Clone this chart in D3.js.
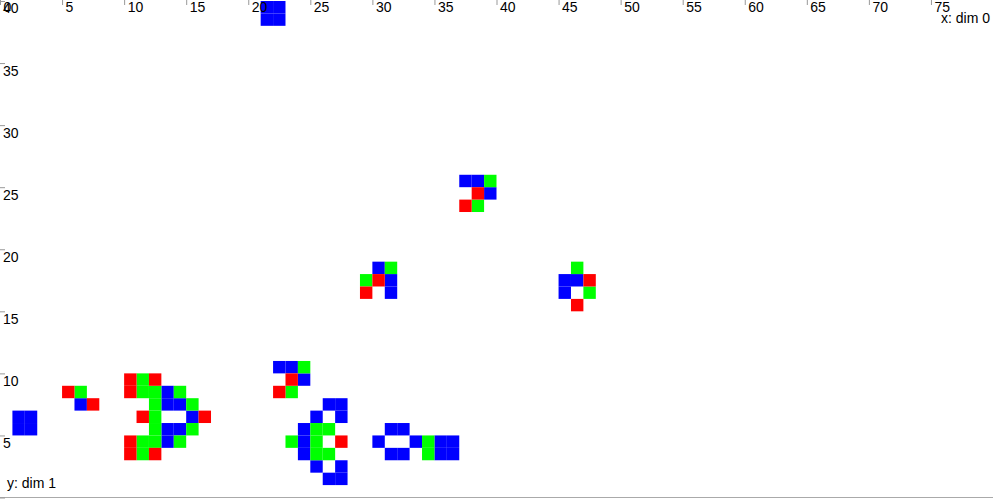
<!DOCTYPE html>
<html>
<head>
<meta charset="utf-8">
<script src="https://cdn.jsdelivr.net/npm/d3@7"></script>
<style>
  html, body { margin: 0; padding: 0; background: #fff; overflow: hidden; }
  svg { display: block; font-family: "Liberation Sans", Arial, sans-serif; }
</style>
</head>
<body>
<script>
// ---- data (cell coordinates) ----
const redCells = [
  [5,8],[7,7],
  [10,9],[12,9],[10,8],[11,6],[16,6],[10,4],[10,3],[12,3],
  [23,9],[22,8],
  [27,4],
  [38,24],[37,23],
  [30,17],[29,16],
  [47,17],[46,15]
];
const greenCells = [
  [6,8],
  [11,9],[11,8],[12,8],[14,8],[12,7],[15,7],[12,6],[12,5],[15,5],[11,4],[12,4],[14,4],[11,3],
  [24,10],[23,8],
  [25,5],[26,5],[23,4],[25,4],[25,3],[26,3],
  [34,4],[34,3],
  [39,25],[38,23],
  [31,18],[29,17],
  [46,18],[47,16]
];
const blueCells = [
  [1,5],[2,5],[1,6],[2,6],
  [21,38],[22,38],[21,39],[22,39],
  [6,7],
  [13,8],[13,7],[14,7],[15,6],[13,5],[14,5],[13,4],
  [22,10],[23,10],[24,9],
  [26,7],[27,7],[25,6],[27,6],[24,5],[24,4],[24,3],[25,2],[27,2],[26,1],[27,1],
  [31,5],[32,5],[30,4],[33,4],[35,4],[36,4],[31,3],[32,3],[35,3],[36,3],
  [37,25],[38,25],[39,24],
  [30,18],[31,17],[31,16],
  [45,17],[46,17],[45,16]
];
const xTicks = [0,5,10,15,20,25,30,35,40,45,50,55,60,65,70,75];
const yTicks = [0,5,10,15,20,25,30,35,40];
const xLabel = "x: dim 0";
const yLabel = "y: dim 1";

// ---- chart ----
const W = 993, H = 499;
const svg = d3.select("body").append("svg").attr("width", W).attr("height", H);

const x = d3.scaleLinear().domain([0, 80]).range([0, W]);
const y = d3.scaleLinear().domain([0, 40]).range([497.5, 1]);

const series = [
  {color: "#0000ff", cells: blueCells},
  {color: "#00ff00", cells: greenCells},
  {color: "#ff0000", cells: redCells}
];

series.forEach(s => {
  svg.append("g").selectAll("rect").data(s.cells).join("rect")
    .attr("x", d => x(d[0]))
    .attr("y", d => y(d[1] + 1))
    .attr("width", d => x(d[0] + 1) - x(d[0]))
    .attr("height", d => y(d[1]) - y(d[1] + 1))
    .attr("fill", s.color);
});

// bottom line
svg.append("line")
  .attr("x1", 0).attr("x2", W)
  .attr("y1", y(0)).attr("y2", y(0))
  .attr("stroke", "#aaa").attr("stroke-width", 1.2);

// x axis (top, ticks inside)
const gx = svg.append("g")
  .call(d3.axisBottom(x).tickValues(xTicks).tickSize(5).tickFormat(d3.format("d")));
gx.select(".domain").remove();
gx.selectAll(".tick line").attr("stroke", "#999");
gx.selectAll(".tick text")
  .attr("x", 3).attr("y", 2).attr("dy", "0.71em")
  .attr("text-anchor", "start")
  .attr("fill", "#000")
  .style("font-size", "14px").style("font-family", "'Liberation Sans', Arial, sans-serif");

// y axis (left, ticks inside)
const gy = svg.append("g")
  .call(d3.axisRight(y).tickValues(yTicks).tickSize(5).tickFormat(d3.format("d")));
gy.select(".domain").remove();
gy.selectAll(".tick line").attr("stroke", "#999");
gy.selectAll(".tick text")
  .attr("x", 3).attr("y", 2).attr("dy", "0.71em")
  .attr("text-anchor", "start")
  .attr("fill", "#000")
  .style("font-size", "14px").style("font-family", "'Liberation Sans', Arial, sans-serif");

// axis titles
svg.append("text")
  .attr("x", 990).attr("y", 23)
  .attr("text-anchor", "end")
  .style("font-size", "14px")
  .text(xLabel);
svg.append("text")
  .attr("x", 7).attr("y", 488)
  .attr("text-anchor", "start")
  .style("font-size", "14px")
  .text(yLabel);
</script>
</body>
</html>
